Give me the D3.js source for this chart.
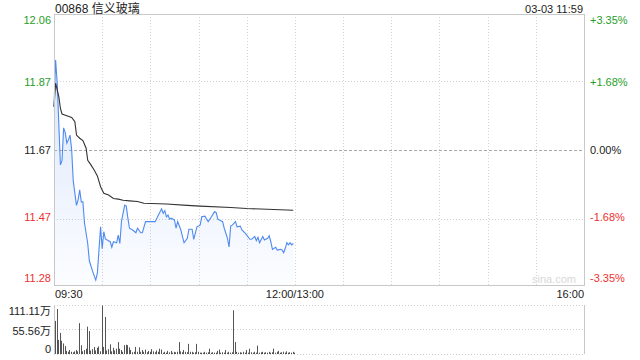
<!DOCTYPE html>
<html>
<head>
<meta charset="utf-8">
<script src="https://cdn.jsdelivr.net/npm/d3@7"></script>
<style>
  body { margin: 0; background: #fff; }
  svg { display: block; font-family: "Liberation Sans", Arial, sans-serif; }
</style>
</head>
<body>
<div id="chart"></div>
<script>
var title = "00868 信义玻璃"
var stamp = "03-03 11:59"
var prevClose = 11.67
var priceTicks = [12.06, 11.87, 11.67, 11.47, 11.28]
var pctTicks = ["+3.35%", "+1.68%", "0.00%", "-1.68%", "-3.35%"]
var timeLabels = ["09:30", "12:00/13:00", "16:00"]
var volTicks = ["111.11万", "55.56万", "0"]

// minutes after 09:30 and last price
var priceMin = [0,1,2,4,5,6,7,8,9,10,11,12,14,15,16,17,18,19,21,22,24,26,27,29,30,31,32,35,36,37,39,40,41,42,44,45,46,47,49,51,52,54,55,57,60,63,65,67,68,69,70,71,72,73,75,76,77,79,80,81,83,84,86,87,89,91,92,94,96,98,100,101,102,105,106,108,109,110,111,113,114,116,117,119,120,122,123,125,126,127,128,130,131,133,134,135,136,138,139,141,142,143,144,145,146,147,148,149]
var priceVal = [11.795,11.93,11.863,11.627,11.64,11.734,11.72,11.69,11.70,11.713,11.67,11.58,11.51,11.526,11.555,11.52,11.52,11.459,11.40,11.35,11.32,11.294,11.314,11.448,11.385,11.434,11.413,11.405,11.389,11.405,11.402,11.424,11.40,11.463,11.511,11.508,11.473,11.444,11.439,11.431,11.444,11.431,11.431,11.463,11.463,11.463,11.482,11.50,11.487,11.495,11.477,11.482,11.47,11.473,11.468,11.444,11.463,11.439,11.42,11.402,11.415,11.441,11.441,11.412,11.448,11.453,11.477,11.479,11.463,11.477,11.492,11.489,11.47,11.463,11.444,11.415,11.39,11.45,11.453,11.463,11.448,11.45,11.439,11.43,11.424,11.412,11.412,11.42,11.408,11.418,11.402,11.42,11.41,11.415,11.422,11.405,11.383,11.389,11.381,11.383,11.381,11.373,11.386,11.402,11.396,11.402,11.396,11.40]

// average price line
var avgMin = [0,1,3,4,5,8,11,13,14,16,18,20,21,23,25,27,29,31,34,37,40,43,47,52,56,70,83,91,110,120,149]
var avgVal = [11.795,11.863,11.824,11.79,11.774,11.769,11.764,11.752,11.713,11.704,11.697,11.675,11.64,11.627,11.612,11.595,11.564,11.545,11.54,11.53,11.528,11.525,11.523,11.521,11.516,11.514,11.51,11.508,11.504,11.501,11.496]

// volume per minute, 万
var volume = [75,102,32,48,30,24,18,7,5,9,5,4,6,9,6,70,20,6,9,12,62,52,8,11,16,8,14,17,6,110,16,84,8,11,22,6,14,8,12,27,12,9,5,20,21,20,15,9,4,5,16,5,15,5,9,5,10,4,7,5,11,6,4,8,5,12,10,3,5,3,7,4,7,3,5,4,5,27,6,4,9,5,4,23,5,5,3,4,23,5,3,3,3,5,3,4,12,3,4,3,3,7,10,3,4,3,9,3,5,3,4,99,27,5,3,4,3,5,3,9,3,12,4,3,5,3,19,3,4,5,3,4,3,5,3,4,12,3,5,7,3,4,5,3,6,3,4,3,5,3]

var W = 640, H = 360
var L = 54, R = 584, T = 14, B = 285
var vT = 305, vB = 354
var green = "#1f9e1f", red = "#f03030", grid = "#c8c8c8"

var svg = d3.select("#chart").append("svg").attr("width", W).attr("height", H)

var x = d3.scaleLinear().domain([0, 330]).range([L, R])
var y = d3.scaleLinear().domain([11.28, 12.06]).range([B, T + 1])
var yv = d3.scaleLinear().domain([0, 111.11]).range([vB, vT])

var defs = svg.append("defs")
var grad = defs.append("linearGradient").attr("id", "fillg").attr("x1", 0).attr("y1", 0).attr("x2", 0).attr("y2", 1)
grad.append("stop").attr("offset", "0%").attr("stop-color", "#5b8ff0").attr("stop-opacity", 0.22)
grad.append("stop").attr("offset", "100%").attr("stop-color", "#5b8ff0").attr("stop-opacity", 0.02)

// vertical grid every 30 minutes
svg.append("g").selectAll("line").data(d3.range(30, 330, 30)).enter().append("line")
  .attr("x1", function(d){ return Math.round(x(d)) + 0.5 })
  .attr("x2", function(d){ return Math.round(x(d)) + 0.5 })
  .attr("y1", T).attr("y2", B)
  .attr("stroke", "#d4d4d4").attr("stroke-dasharray", "1,2")

// horizontal grid
svg.append("g").selectAll("line").data([11.87, 11.67, 11.47]).enter().append("line")
  .attr("x1", L).attr("x2", R)
  .attr("y1", function(d){ return Math.round(y(d)) + 0.5 })
  .attr("y2", function(d){ return Math.round(y(d)) + 0.5 })
  .attr("stroke", function(d){ return d === prevClose ? "#aaa" : "#cfcfcf" })
  .attr("stroke-dasharray", function(d){ return d === prevClose ? "3,2" : "1,2" })

var pts = priceMin.map(function(m, i){ return [m, priceVal[i]] })
var area = d3.area().x(function(d){ return x(d[0]) }).y0(B).y1(function(d){ return y(d[1]) })
svg.append("path").datum(pts).attr("d", area).attr("fill", "url(#fillg)")

var line = d3.line().x(function(d){ return x(d[0]) }).y(function(d){ return y(d[1]) })
svg.append("path").datum(pts).attr("d", line)
  .attr("fill", "none").attr("stroke", "#4f8af0").attr("stroke-width", 1.1)

var avgPts = avgMin.map(function(m, i){ return [m, avgVal[i]] })
svg.append("path").datum(avgPts).attr("d", line)
  .attr("fill", "none").attr("stroke", "#333").attr("stroke-width", 1.1)

svg.append("rect").attr("x", L + 0.5).attr("y", T + 0.5).attr("width", R - L).attr("height", B - T)
  .attr("fill", "none").attr("stroke", grid)

svg.append("text").attr("x", 576).attr("y", 283).attr("text-anchor", "end")
  .attr("font-size", 11).attr("fill", "#d8d8d8").text("sina.com")

// price labels
var lblY = [20, 82, 150, 217, 278]
function tickColor(i){ return i < 2 ? green : (i > 2 ? red : "#222") }
svg.append("g").selectAll("text").data(priceTicks).enter().append("text")
  .attr("x", 51).attr("y", function(d, i){ return lblY[i] })
  .attr("dy", "0.35em").attr("text-anchor", "end").attr("font-size", 11)
  .attr("fill", function(d, i){ return tickColor(i) })
  .text(function(d){ return d.toFixed(2) })
svg.append("g").selectAll("text").data(pctTicks).enter().append("text")
  .attr("x", 590).attr("y", function(d, i){ return lblY[i] })
  .attr("dy", "0.35em").attr("font-size", 11)
  .attr("fill", function(d, i){ return tickColor(i) })
  .text(function(d){ return d })

svg.append("text").attr("x", 55).attr("y", 13).attr("font-size", 12).attr("fill", "#222")
  .style("font-family", "'Liberation Sans','Noto Sans CJK SC',sans-serif").text(title)
svg.append("text").attr("x", 583).attr("y", 13).attr("text-anchor", "end").attr("font-size", 11).attr("fill", "#222").text(stamp)

// time labels
var tPos = [[0, "start"], [150, "middle"], [330, "end"]]
svg.append("g").selectAll("text").data(timeLabels).enter().append("text")
  .attr("x", function(d, i){ return x(tPos[i][0]) + (i === 0 ? 1 : 0) })
  .attr("y", 298).attr("text-anchor", function(d, i){ return tPos[i][1] })
  .attr("font-size", 11).attr("fill", "#222").text(function(d){ return d })

// volume panel
svg.append("g").selectAll("line").data([111.11, 55.56, 0]).enter().append("line")
  .attr("x1", L).attr("x2", R)
  .attr("y1", function(d){ return Math.round(yv(d)) + 0.5 })
  .attr("y2", function(d){ return Math.round(yv(d)) + 0.5 })
  .attr("stroke", "#cfcfcf").attr("stroke-dasharray", "1,2")
svg.append("line").attr("x1", R + 0.5).attr("x2", R + 0.5).attr("y1", vT).attr("y2", vB).attr("stroke", grid)
svg.append("line").attr("x1", L + 0.5).attr("x2", L + 0.5).attr("y1", vT).attr("y2", vB).attr("stroke", grid)

svg.append("g").selectAll("line").data(volume).enter().append("line")
  .attr("x1", function(d, i){ return Math.round(x(i)) + 1.5 })
  .attr("x2", function(d, i){ return Math.round(x(i)) + 1.5 })
  .attr("y1", vB).attr("y2", function(d){ return yv(d) })
  .attr("stroke", "#555").attr("stroke-width", 1)

var vLblY = [311, 331, 349]
svg.append("g").selectAll("text").data(volTicks).enter().append("text")
  .attr("x", 51).attr("y", function(d, i){ return vLblY[i] })
  .attr("dy", "0.35em").attr("text-anchor", "end").attr("font-size", 11).attr("fill", "#222")
  .style("font-family", "'Liberation Sans','Noto Sans CJK SC',sans-serif")
  .text(function(d){ return d })
</script>
</body>
</html>
